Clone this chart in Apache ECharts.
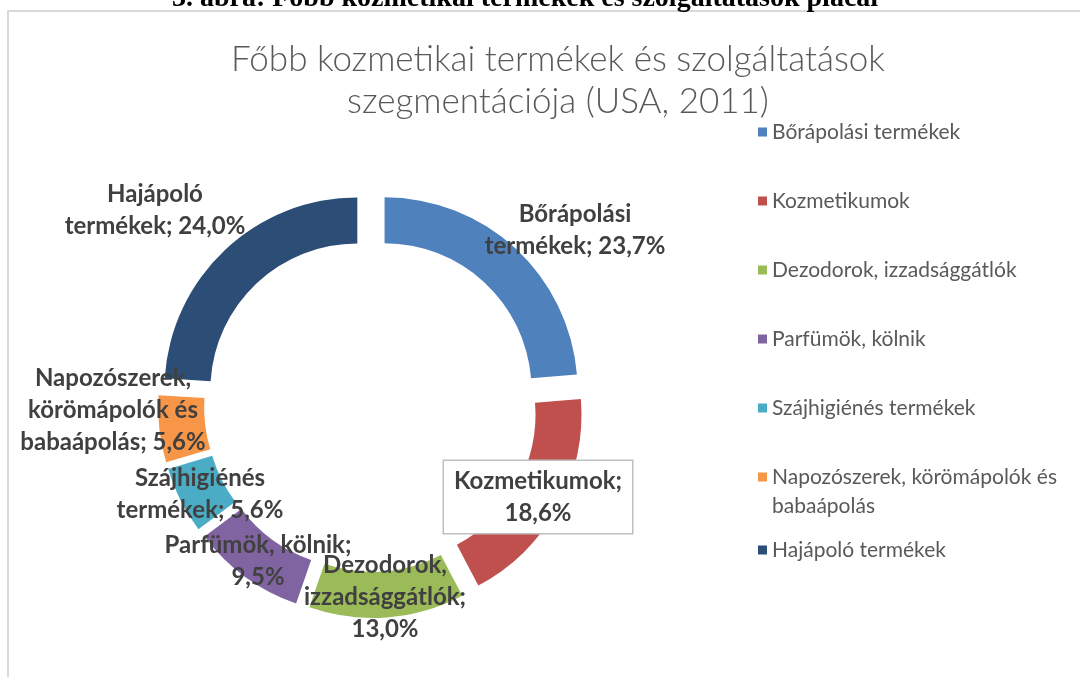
<!DOCTYPE html>
<html>
<head>
<meta charset="utf-8">
<script src="https://cdn.jsdelivr.net/npm/echarts@6/dist/echarts.min.js"></script>
<style>
  html, body { margin: 0; padding: 0; background: #fff; }
  #chart_box { width: 1080px; height: 677px; }
</style>
</head>
<body>
<div id="chart_box"></div>
<script>
// kategóriák és értékek (%)
let categories = ['Bőrápolási termékek', 'Kozmetikumok', 'Dezodorok, izzadsággátlók', 'Parfümök, kölnik',
    'Szájhigiénés termékek', 'Napozószerek, körömápolók és babaápolás', 'Hajápoló termékek'];
let values = [23.7, 18.6, 13.0, 9.5, 5.6, 5.6, 24.0];
// címkék sortörései (név; érték)
let labelNames = ['Bőrápolási\ntermékek; ', 'Kozmetikumok;\n', 'Dezodorok,\nizzadsággátlók;\n', 'Parfümök, kölnik;\n',
    'Szájhigiénés\ntermékek; ', 'Napozószerek,\nkörömápolók és\nbabaápolás; ', 'Hajápoló\ntermékek; '];
let colors = ['#4F81BD', '#C0504D', '#9BBB59', '#8064A2', '#4BACC6', '#F79646', '#2C4D75'];

// kézzel elhelyezett címkék (mint az Excelben)
let labelPos = [[575, 230], [538, 497], [385, 597], [258, 561], [200, 494], [113, 410], [155, 210]];

let myChart = echarts.init(document.getElementById('chart_box'));

function fmtValue(v) {
    return v.toFixed(1).replace('.', ',') + '%';
}

// gyűrű szeletei (kirobbantva)
let ringData = categories.map(function (name, i) {
    return {
        name: name,
        value: values[i],
        selected: true,
        itemStyle: { color: colors[i] }
    };
});

// csak a címkékhez
let labelData = categories.map(function (name, i) {
    let item = { name: name, value: values[i] };
    if (i === 1) {
        item.label = {
            backgroundColor: '#fff',
            borderColor: '#bfbfbf',
            borderWidth: 1.5,
            padding: [4, 10, 4, 10]
        };
    }
    return item;
});

let legendText = { fontFamily: 'Lato', fontSize: 21, lineHeight: 22, color: '#595959' };

let option = {
    animation: false,
    color: colors,
    title: [
        {
            text: 'Főbb kozmetikai termékek és szolgáltatások\nszegmentációja (USA, 2011)',
            left: 553,
            top: 34,
            textAlign: 'center',
            textStyle: {
                fontFamily: 'Lato',
                fontWeight: 300,
                fontSize: 35,
                lineHeight: 42,
                color: '#595959'
            }
        },
        {
            text: '3. ábra: Főbb kozmetikai termékek és szolgáltatások piacai',
            left: 520,
            top: -21,
            textAlign: 'center',
            textStyle: {
                fontFamily: 'Liberation Serif',
                fontWeight: 'bold',
                fontSize: 28,
                lineHeight: 30,
                color: '#000'
            }
        }
    ],
    graphic: [
        {
            type: 'rect',
            shape: { x: 8, y: 11, width: 1100, height: 700 },
            style: { fill: 'none', stroke: '#d9d9d9', lineWidth: 2 },
            silent: true
        }
    ],
    legend: [
        {
            orient: 'vertical',
            left: 753,
            top: 116,
            itemWidth: 9,
            itemHeight: 9,
            itemGap: 47,
            icon: 'rect',
            selectedMode: false,
            itemStyle: { borderWidth: 0 },
            data: categories.slice(0, 5),
            textStyle: legendText
        },
        {
            // kétsoros elem: a jel az első sorhoz igazodik
            orient: 'vertical',
            left: 753,
            top: 458,
            itemWidth: 9,
            itemHeight: 39,
            icon: 'path://M0,0L9,0L9,9L0,9Z M0,39L0.01,39',
            selectedMode: false,
            itemStyle: { borderWidth: 0 },
            data: [categories[5]],
            formatter: function () {
                return 'Napozószerek, körömápolók és\nbabaápolás';
            },
            textStyle: { fontFamily: 'Lato', fontSize: 21, lineHeight: 29, color: '#595959' }
        },
        {
            orient: 'vertical',
            left: 753,
            top: 534,
            itemWidth: 9,
            itemHeight: 9,
            icon: 'rect',
            selectedMode: false,
            itemStyle: { borderWidth: 0 },
            data: [categories[6]],
            textStyle: legendText
        }
    ],
    series: [
        {
            name: 'Szegmentáció',
            type: 'pie',
            center: [371, 405],
            radius: [147, 193],
            startAngle: 90,
            clockwise: true,
            selectedMode: 'multiple',
            selectedOffset: 20,
            silent: true,
            emphasis: { disabled: true },
            label: { show: false },
            labelLine: { show: false },
            data: ringData
        },
        {
            name: 'Címkék',
            type: 'pie',
            center: [371, 405],
            radius: [147, 193],
            startAngle: 90,
            clockwise: true,
            silent: true,
            avoidLabelOverlap: false,
            emphasis: { disabled: true },
            itemStyle: { color: 'rgba(0,0,0,0)' },
            label: {
                show: true,
                position: 'inside',
                fontFamily: 'Lato',
                fontWeight: 'bold',
                fontSize: 24,
                lineHeight: 32,
                color: '#404040',
                opacity: 1,
                align: 'center',
                formatter: function (p) {
                    return labelNames[p.dataIndex] + fmtValue(p.value);
                }
            },
            labelLine: { show: false },
            labelLayout: function (params) {
                let pos = labelPos[params.dataIndex];
                return { x: pos[0], y: pos[1], align: 'center', verticalAlign: 'middle' };
            },
            data: labelData
        }
    ]
};

myChart.setOption(option);
</script>
</body>
</html>
